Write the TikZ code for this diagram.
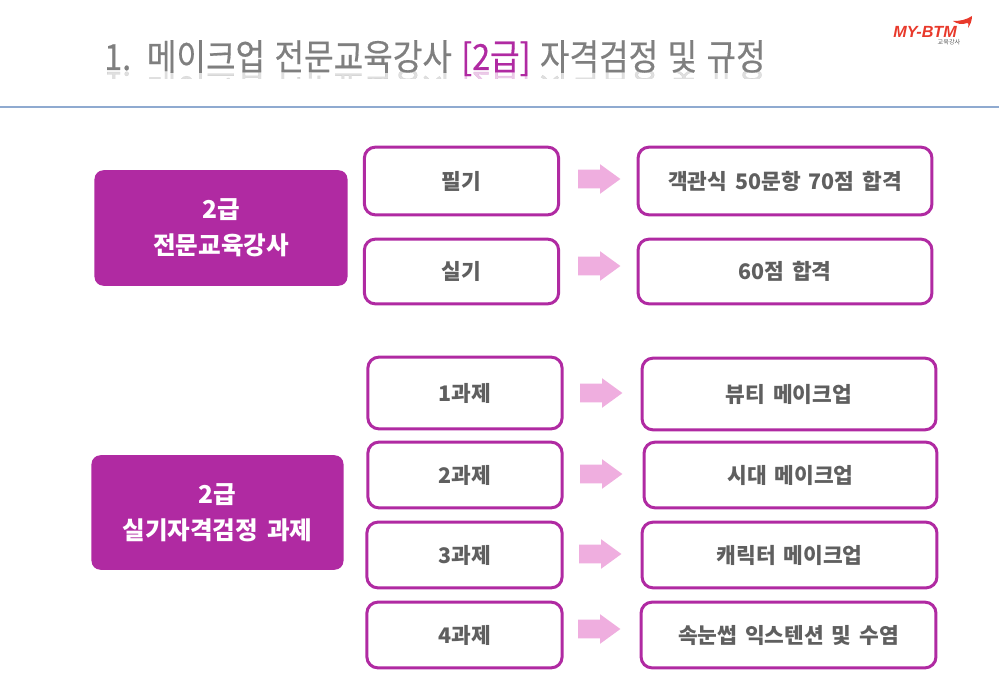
\documentclass[tikz,border=0pt]{standalone}
\usepackage{fontspec}
\setmainfont[WordSpace=1.6]{Noto Sans CJK KR}
\newfontfamily\titlefont[WordSpace=1.3,FakeBold=.45]{Noto Sans CJK KR}
\newfontfamily\logofont{Liberation Sans}
\usetikzlibrary{shapes.arrows}
\definecolor{btmpurple}{HTML}{B02AA2}
\definecolor{btmpink}{HTML}{EFAEDF}
\definecolor{btmgray}{HTML}{5F5F5F}
\definecolor{btmrule}{HTML}{8FAAD0}
\definecolor{btmred}{HTML}{E8392B}
\definecolor{titlegray}{HTML}{7F7F7F}
\newcommand{\titletext}{\textcolor{titlegray}{1.~~\kern-1.7pt 메이크업 전문교육강사} \textcolor{btmpurple}{[2급]} \textcolor{titlegray}{자격검정 및 규정}}
\tikzset{
    headbox/.style={rectangle, rounded corners=9pt*.567, fill=btmpurple, text=white, font=\fontsize{14}{20.5}\selectfont\bfseries, align=center, inner sep=0pt},
    itembox/.style={rectangle, rounded corners=11pt*.567, draw=btmpurple, line width=1.7pt, fill=white, text=btmgray, font=\fontsize{12.2}{14}\selectfont\bfseries, inner sep=0pt},
    pinkarrow/.style={single arrow, fill=btmpink, minimum width=16.5pt, single arrow head extend=3pt, single arrow tip angle=72, minimum height=24pt, inner xsep=0pt, inner ysep=5.2pt, anchor=tip},
    titlestyle/.style={font=\fontsize{18.3}{20}\selectfont\titlefont, anchor=base west, inner sep=0pt},
}
\begin{document}
\begin{tikzpicture}[x=.02cm,y=-.02cm]
    \useasboundingbox (0,0) rectangle (999,692);
    % title, with its reflection
    \coordinate (mirrorbase) at (104,72);
    \coordinate (titlebase) at (104,70);
    \begin{scope}
        \clip (90,71) rectangle (780,79);
        \node[titlestyle, yscale=-1, opacity=.25] (titlemirror) at (mirrorbase) {\titletext};
    \end{scope}
    \node[titlestyle, yscale=1.12] (title) at (titlebase) {\titletext};
    \coordinate (ruleleft) at (0,107);
    \coordinate (ruleright) at (999,107);
    \draw[btmrule, line width=.8pt] (ruleleft) -- (ruleright);
    % logo
    \node[text=btmred, font=\fontsize{9.2}{10}\logofont\bfseries\itshape, anchor=base west, inner sep=0pt] (logo) at (893,38) {MY-BTM};
    \node[text=btmgray, font=\fontsize{3.5}{4}\selectfont, inner sep=0pt] (logosub) at (949,42) {교육강사};
    \fill[btmred] (953,21) .. controls (960,21) and (966,20) .. (972,16) .. controls (972,21) and (970,25) .. (968,28) .. controls (969,24) and (968,22) .. (967,23) .. controls (962,25) and (957,24) .. (953,21);
    % head boxes
    \node[headbox, minimum width=254*.567pt, minimum height=116*.567pt] (headone) at (221,228) {2급\\전문교육강사};
    \node[headbox, minimum width=253*.567pt, minimum height=115*.567pt] (headtwo) at (217.5,512.5) {2급\\실기자격검정 과제};
    % upper rows
    \node[itembox, minimum width=195*.567pt, minimum height=68*.567pt] (pilgi) at (461.5,181) {필기};
    \node[itembox, minimum width=195*.567pt, minimum height=65*.567pt] (silgi) at (461.5,271.5) {실기};
    \node[itembox, minimum width=295*.567pt, minimum height=68*.567pt] (pilgires) at (785,181) {객관식 50문항 70점 합격};
    \node[itembox, minimum width=295*.567pt, minimum height=65*.567pt] (silgires) at (785,271.5) {60점 합격};
    \node[pinkarrow] (arrowa) at (621,179) {};
    \node[pinkarrow] (arrowb) at (621,266) {};
    % lower rows
    \node[itembox, minimum width=195*.567pt, minimum height=72*.567pt] (taska) at (465,393) {1과제};
    \node[itembox, minimum width=195*.567pt, minimum height=66*.567pt] (taskb) at (465,475) {2과제};
    \node[itembox, minimum width=196*.567pt, minimum height=66*.567pt] (taskc) at (464.5,555) {3과제};
    \node[itembox, minimum width=196*.567pt, minimum height=66*.567pt] (taskd) at (464.5,635) {4과제};
    \node[itembox, minimum width=295*.567pt, minimum height=72*.567pt] (resa) at (789,394) {뷰티 메이크업};
    \node[itembox, minimum width=294*.567pt, minimum height=66*.567pt] (resb) at (790.5,475) {시대 메이크업};
    \node[itembox, minimum width=296*.567pt, minimum height=66*.567pt] (resc) at (789.5,555) {캐릭터 메이크업};
    \node[itembox, minimum width=296*.567pt, minimum height=66*.567pt] (resd) at (788.5,635) {속눈썹 익스텐션 및 수염};
    \node[pinkarrow] (arrowc) at (623,393) {};
    \node[pinkarrow] (arrowd) at (623,474) {};
    \node[pinkarrow] (arrowe) at (622,554) {};
    \node[pinkarrow] (arrowf) at (621,629) {};
\end{tikzpicture}
\end{document}
